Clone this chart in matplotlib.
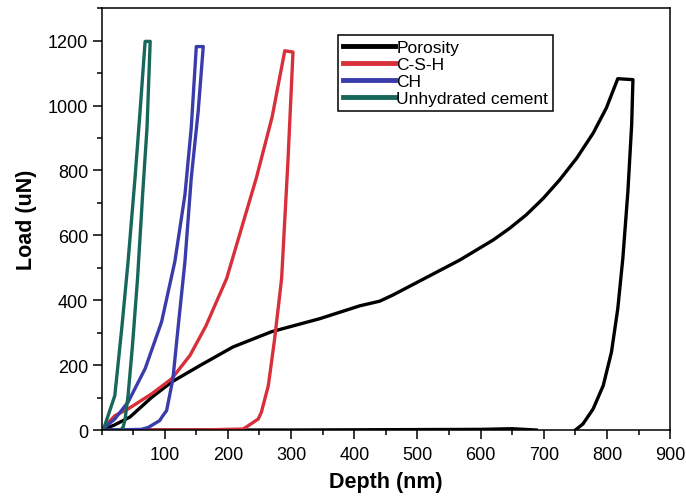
import matplotlib.pyplot as plt
from matplotlib.ticker import MultipleLocator

plt.rcParams['font.family'] = ['Liberation Sans', 'DejaVu Sans']

# Porosity (loading + unloading)
por_depth = [0, 20, 45, 79, 111, 156, 208, 269, 345, 409, 440, 461, 514, 567, 620, 646,
             672, 699, 725, 752, 778, 799, 817, 841, 839, 833, 825, 817, 807, 794, 778,
             762, 750]
por_load = [0, 15, 40, 100, 148, 199, 256, 303, 343, 383, 397, 416, 470, 524, 586, 622,
            663, 714, 771, 838, 915, 993, 1083, 1080, 942, 735, 529, 374, 240, 137, 65,
            19, 0]
por_base_depth = [0, 300, 600, 650, 688]
por_base_load = [0, 0, 2, 4, 0]

# C-S-H
csh_depth = [0, 21, 42, 79, 111, 140, 165, 198, 245, 270, 290, 303, 295, 285, 274,
             264, 253, 248, 232, 224, 150, 65]
csh_load = [0, 44, 65, 111, 158, 230, 320, 467, 777, 965, 1169, 1165, 828, 467, 282,
            137, 55, 34, 13, 3, 0, 0]

# CH
ch_depth = [0, 21, 42, 69, 95, 116, 132, 142, 150, 161, 153, 142, 132, 121, 113, 103,
            97, 92, 74, 63, 10]
ch_load = [0, 34, 86, 189, 333, 519, 725, 932, 1182, 1182, 983, 777, 519, 313, 158, 60,
           44, 29, 8, 2, 0]

# Unhydrated cement
uc_depth = [0, 5, 21, 32, 42, 53, 61, 69, 77, 72, 65, 57, 49, 42, 37, 34, 30]
uc_load = [0, 13, 106, 313, 519, 777, 983, 1198, 1198, 932, 725, 467, 261, 106, 30, 8, 0]

fig = plt.figure(figsize=(6.86, 5.02), dpi=100)
ax = fig.add_axes([0.148, 0.1414, 0.829, 0.8401])

lw = 2.4
ax.plot(por_base_depth, por_base_load, color='black', lw=lw)
ax.plot(por_depth, por_load, color='black', lw=lw, label='Porosity')
ax.plot(csh_depth, csh_load, color='#d8303a', lw=lw, label='C-S-H')
ax.plot(ch_depth, ch_load, color='#3b3cab', lw=lw, label='CH')
ax.plot(uc_depth, uc_load, color='#17685a', lw=lw, label='Unhydrated cement')

ax.set_xlim(0, 900)
ax.set_ylim(0, 1300)
ax.set_xticks([100, 200, 300, 400, 500, 600, 700, 800, 900])
ax.set_yticks([0, 200, 400, 600, 800, 1000, 1200])
ax.xaxis.set_minor_locator(MultipleLocator(50))
ax.yaxis.set_minor_locator(MultipleLocator(100))
ax.tick_params(which='major', direction='out', length=6.5, width=1.1, labelsize=13,
               top=False, right=False)
ax.tick_params(which='minor', direction='out', length=3.6, width=1.1,
               top=False, right=False)
ax.tick_params(axis='y', pad=3)
ax.tick_params(axis='x', pad=5)
for s in ax.spines.values():
    s.set_linewidth(1.1)

ax.set_xlabel('Depth (nm)', fontsize=15.5, fontweight='bold', labelpad=6)
ax.set_ylabel('Load (uN)', fontsize=15.5, fontweight='bold', labelpad=8)

leg = ax.legend(loc='upper left', bbox_to_anchor=(0.493, 0.928),
                bbox_transform=fig.transFigure, fontsize=12.5, fancybox=False,
                edgecolor='black', framealpha=1, handlelength=3.0, handletextpad=0.1,
                labelspacing=0.12, borderpad=0.25, borderaxespad=0)
leg.get_frame().set_linewidth(1.1)
for line in leg.get_lines():
    line.set_linewidth(3.5)

fig.savefig('out.png', dpi=100)
